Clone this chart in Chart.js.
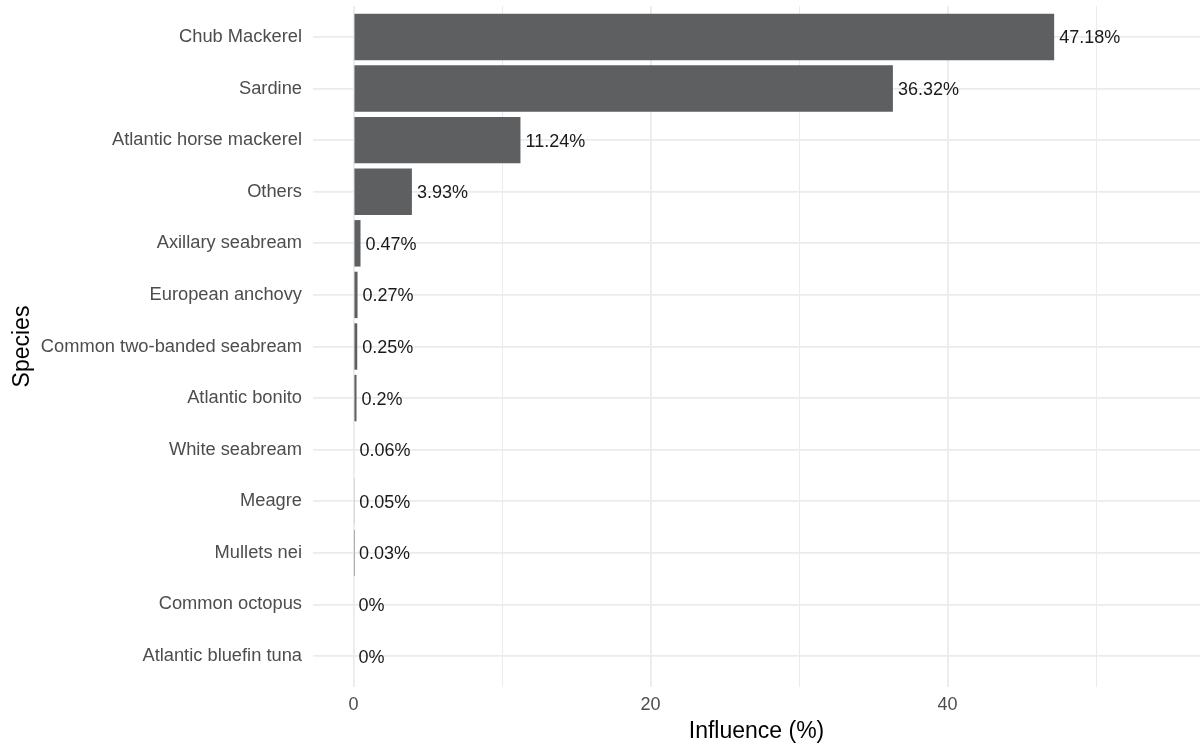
<!DOCTYPE html>
<html>
<head>
<meta charset="utf-8">
<script src="https://cdn.jsdelivr.net/npm/chart.js@4/dist/chart.umd.min.js"></script>
<style>
html,body{margin:0;padding:0;background:#fff;}
#wrap{width:1200px;height:745px;position:relative;}
</style>
</head>
<body>
<div id="wrap"><canvas id="c" width="1200" height="745"></canvas></div>
<script>
const species = ["Chub Mackerel","Sardine","Atlantic horse mackerel","Others","Axillary seabream","European anchovy","Common two-banded seabream","Atlantic bonito","White seabream","Meagre","Mullets nei","Common octopus","Atlantic bluefin tuna"];
const influence = [47.18,36.32,11.24,3.93,0.47,0.27,0.25,0.2,0.06,0.05,0.03,0,0];
const valueLabels = ["47.18%","36.32%","11.24%","3.93%","0.47%","0.27%","0.25%","0.2%","0.06%","0.05%","0.03%","0%","0%"];
const xTicks = [0,10,20,30,40,50];
const xTickLabels = {0:"0",20:"20",40:"40"};

const FONT = "'Liberation Sans', Arial, sans-serif";

const labelPlugin = {
  id: 'valueLabels',
  afterDatasetsDraw(chart) {
    const ctx = chart.ctx;
    const meta = chart.getDatasetMeta(0);
    ctx.save();
    ctx.font = "18px " + FONT;
    ctx.fillStyle = "#1a1a1a";
    ctx.textAlign = "left";
    ctx.textBaseline = "middle";
    meta.data.forEach((bar, i) => {
      ctx.fillText(valueLabels[i], bar.x + 5, bar.y + 1.5);
    });
    ctx.restore();
  }
};

new Chart(document.getElementById('c'), {
  type: 'bar',
  data: {
    datasets: [{
      data: species.map((s, i) => ({x: influence[i], y: i})),
      backgroundColor: '#5e5f61',
      borderWidth: 0,
      barPercentage: 0.9,
      categoryPercentage: 1.0
    }]
  },
  options: {
    indexAxis: 'y',
    responsive: false,
    animation: false,
    devicePixelRatio: 1,
    layout: {padding: {left: 0, right: 0, top: 6, bottom: 0}},
    plugins: {legend: {display: false}, tooltip: {enabled: false}},
    scales: {
      x: {
        type: 'linear',
        min: -2.73,
        max: 57.0,
        afterBuildTicks(scale) { scale.ticks = xTicks.map(v => ({value: v})); },
        afterFit(scale) { scale.height = 58; scale.paddingLeft = 0; scale.paddingRight = 0; },
        border: {display: false},
        grid: {
          drawTicks: false,
          color: '#ebebeb',
          lineWidth: (c) => (c.tick && c.tick.value % 20 === 0) ? 1.8 : 1
        },
        ticks: {
          padding: 7,
          color: '#4d4d4d',
          font: {family: FONT, size: 18},
          callback: (v) => (xTickLabels[v] !== undefined ? xTickLabels[v] : '')
        },
        title: {
          display: true,
          text: 'Influence (%)',
          color: '#000',
          font: {family: FONT, size: 23},
          padding: {top: 2, bottom: 0}
        }
      },
      y: {
        type: 'linear',
        reverse: true,
        offset: false,
        min: -0.6,
        max: 12.6,
        afterBuildTicks(scale) { scale.ticks = species.map((s, i) => ({value: i})); },
        afterFit(scale) { scale.width = 313; scale.paddingTop = 0; scale.paddingBottom = 0; },
        border: {display: false},
        grid: {drawTicks: false, offset: false, color: '#ebebeb', lineWidth: 1.8},
        ticks: {
          padding: 11,
          color: '#4d4d4d',
          font: {family: FONT, size: 18.3},
          callback: (v) => species[v] !== undefined ? species[v] : ''
        },
        title: {
          display: true,
          text: 'Species',
          color: '#000',
          font: {family: FONT, size: 23},
          padding: {top: 9, bottom: 2}
        }
      }
    }
  },
  plugins: [labelPlugin]
});
</script>
</body>
</html>
